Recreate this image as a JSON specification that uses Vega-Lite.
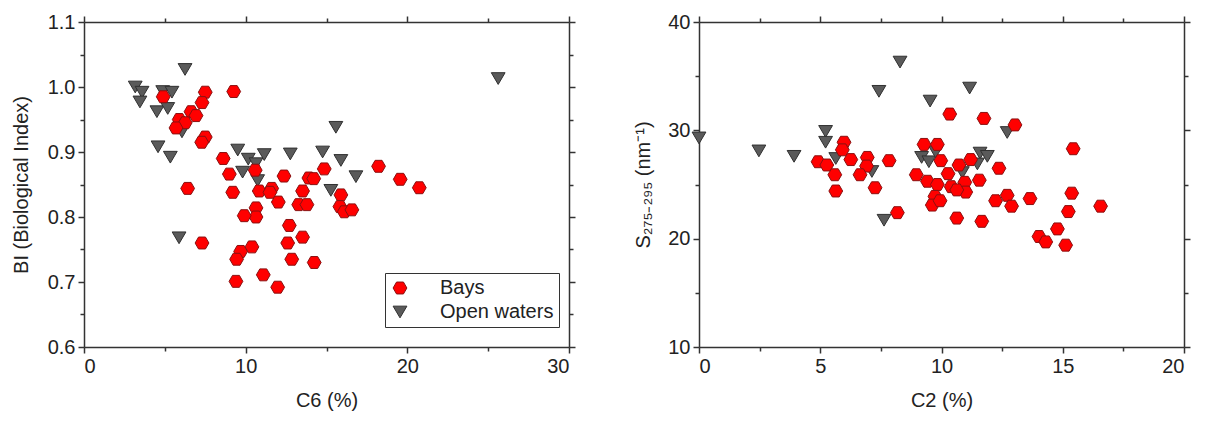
{
  "$schema": "https://vega.github.io/schema/vega-lite/v6.json",
  "background": "white",
  "padding": {"left": 11, "top": 12, "right": 10, "bottom": 5},
  "spacing": 57,
  "config": {
    "font": "Liberation Sans",
    "view": {"stroke": null},
    "axis": {
      "grid": false,
      "labelFont": "Liberation Sans",
      "labelFontSize": 20,
      "labelColor": "#222",
      "labelPadding": 3,
      "titleFont": "Liberation Sans",
      "titleFontSize": 20,
      "titleFontWeight": "normal",
      "titleColor": "#222",
      "domainColor": "#333",
      "domainWidth": 1.5,
      "tickColor": "#333",
      "tickWidth": 1.5
    }
  },
  "datasets": {
    "bi": [
      {"site": "Open waters", "c6": 3.17, "bi": 1.000},
      {"site": "Open waters", "c6": 3.59, "bi": 0.992},
      {"site": "Open waters", "c6": 3.46, "bi": 0.977},
      {"site": "Open waters", "c6": 4.51, "bi": 0.962},
      {"site": "Open waters", "c6": 4.87, "bi": 0.993},
      {"site": "Open waters", "c6": 5.44, "bi": 0.992},
      {"site": "Open waters", "c6": 5.18, "bi": 0.967},
      {"site": "Open waters", "c6": 6.25, "bi": 1.027},
      {"site": "Open waters", "c6": 4.58, "bi": 0.908},
      {"site": "Open waters", "c6": 5.34, "bi": 0.892},
      {"site": "Open waters", "c6": 6.06, "bi": 0.931},
      {"site": "Open waters", "c6": 5.88, "bi": 0.768},
      {"site": "Open waters", "c6": 9.51, "bi": 0.903},
      {"site": "Open waters", "c6": 10.16, "bi": 0.889},
      {"site": "Open waters", "c6": 10.64, "bi": 0.882},
      {"site": "Open waters", "c6": 9.81, "bi": 0.869},
      {"site": "Open waters", "c6": 11.15, "bi": 0.896},
      {"site": "Open waters", "c6": 10.74, "bi": 0.856},
      {"site": "Open waters", "c6": 12.76, "bi": 0.897},
      {"site": "Open waters", "c6": 14.76, "bi": 0.900},
      {"site": "Open waters", "c6": 15.89, "bi": 0.887},
      {"site": "Open waters", "c6": 16.82, "bi": 0.862},
      {"site": "Open waters", "c6": 15.27, "bi": 0.841},
      {"site": "Open waters", "c6": 15.58, "bi": 0.938},
      {"site": "Open waters", "c6": 25.62, "bi": 1.013},
      {"site": "Bays", "c6": 4.90, "bi": 0.985},
      {"site": "Bays", "c6": 7.50, "bi": 0.992},
      {"site": "Bays", "c6": 7.30, "bi": 0.976},
      {"site": "Bays", "c6": 9.26, "bi": 0.993},
      {"site": "Bays", "c6": 6.62, "bi": 0.962},
      {"site": "Bays", "c6": 6.93, "bi": 0.956},
      {"site": "Bays", "c6": 5.89, "bi": 0.950},
      {"site": "Bays", "c6": 6.26, "bi": 0.945},
      {"site": "Bays", "c6": 5.69, "bi": 0.937},
      {"site": "Bays", "c6": 7.50, "bi": 0.923},
      {"site": "Bays", "c6": 7.28, "bi": 0.915},
      {"site": "Bays", "c6": 6.41, "bi": 0.844},
      {"site": "Bays", "c6": 8.61, "bi": 0.890},
      {"site": "Bays", "c6": 8.99, "bi": 0.866},
      {"site": "Bays", "c6": 9.20, "bi": 0.838},
      {"site": "Bays", "c6": 10.59, "bi": 0.872},
      {"site": "Bays", "c6": 10.84, "bi": 0.840},
      {"site": "Bays", "c6": 10.64, "bi": 0.814},
      {"site": "Bays", "c6": 10.64, "bi": 0.800},
      {"site": "Bays", "c6": 9.91, "bi": 0.802},
      {"site": "Bays", "c6": 11.61, "bi": 0.844},
      {"site": "Bays", "c6": 11.50, "bi": 0.838},
      {"site": "Bays", "c6": 12.37, "bi": 0.863},
      {"site": "Bays", "c6": 12.02, "bi": 0.823},
      {"site": "Bays", "c6": 13.52, "bi": 0.840},
      {"site": "Bays", "c6": 13.28, "bi": 0.819},
      {"site": "Bays", "c6": 13.79, "bi": 0.819},
      {"site": "Bays", "c6": 13.91, "bi": 0.860},
      {"site": "Bays", "c6": 14.21, "bi": 0.859},
      {"site": "Bays", "c6": 14.86, "bi": 0.874},
      {"site": "Bays", "c6": 12.70, "bi": 0.787},
      {"site": "Bays", "c6": 13.52, "bi": 0.769},
      {"site": "Bays", "c6": 12.60, "bi": 0.760},
      {"site": "Bays", "c6": 7.30, "bi": 0.760},
      {"site": "Bays", "c6": 9.69, "bi": 0.747},
      {"site": "Bays", "c6": 9.44, "bi": 0.735},
      {"site": "Bays", "c6": 10.39, "bi": 0.754},
      {"site": "Bays", "c6": 12.85, "bi": 0.735},
      {"site": "Bays", "c6": 14.24, "bi": 0.730},
      {"site": "Bays", "c6": 9.40, "bi": 0.701},
      {"site": "Bays", "c6": 11.09, "bi": 0.711},
      {"site": "Bays", "c6": 11.98, "bi": 0.692},
      {"site": "Bays", "c6": 15.89, "bi": 0.834},
      {"site": "Bays", "c6": 15.83, "bi": 0.816},
      {"site": "Bays", "c6": 16.10, "bi": 0.808},
      {"site": "Bays", "c6": 16.57, "bi": 0.811},
      {"site": "Bays", "c6": 18.22, "bi": 0.878},
      {"site": "Bays", "c6": 19.56, "bi": 0.858},
      {"site": "Bays", "c6": 20.74, "bi": 0.845}
    ],
    "s": [
      {"site": "Open waters", "c2": 0.0, "s": 29.3},
      {"site": "Open waters", "c2": 2.47, "s": 28.1},
      {"site": "Open waters", "c2": 3.92, "s": 27.6},
      {"site": "Open waters", "c2": 5.22, "s": 29.9},
      {"site": "Open waters", "c2": 5.22, "s": 28.9},
      {"site": "Open waters", "c2": 5.64, "s": 27.4},
      {"site": "Open waters", "c2": 7.42, "s": 33.6},
      {"site": "Open waters", "c2": 7.63, "s": 21.7},
      {"site": "Open waters", "c2": 7.13, "s": 26.2},
      {"site": "Open waters", "c2": 8.29, "s": 36.3},
      {"site": "Open waters", "c2": 11.16, "s": 33.9},
      {"site": "Open waters", "c2": 9.53, "s": 32.7},
      {"site": "Open waters", "c2": 12.71, "s": 29.8},
      {"site": "Open waters", "c2": 9.18, "s": 27.5},
      {"site": "Open waters", "c2": 9.48, "s": 27.1},
      {"site": "Open waters", "c2": 9.76, "s": 28.0},
      {"site": "Open waters", "c2": 10.86, "s": 26.1},
      {"site": "Open waters", "c2": 11.59, "s": 27.9},
      {"site": "Open waters", "c2": 11.89, "s": 27.6},
      {"site": "Open waters", "c2": 11.48, "s": 26.9},
      {"site": "Bays", "c2": 5.98, "s": 28.9},
      {"site": "Bays", "c2": 5.91, "s": 28.2},
      {"site": "Bays", "c2": 6.26, "s": 27.3},
      {"site": "Bays", "c2": 4.91, "s": 27.1},
      {"site": "Bays", "c2": 5.27, "s": 26.8},
      {"site": "Bays", "c2": 5.60, "s": 25.9},
      {"site": "Bays", "c2": 5.64, "s": 24.4},
      {"site": "Bays", "c2": 6.94, "s": 27.5},
      {"site": "Bays", "c2": 6.91, "s": 26.7},
      {"site": "Bays", "c2": 6.64, "s": 25.9},
      {"site": "Bays", "c2": 7.26, "s": 24.7},
      {"site": "Bays", "c2": 10.34, "s": 31.5},
      {"site": "Bays", "c2": 11.75, "s": 31.1},
      {"site": "Bays", "c2": 13.03, "s": 30.5},
      {"site": "Bays", "c2": 9.28, "s": 28.7},
      {"site": "Bays", "c2": 9.83, "s": 28.7},
      {"site": "Bays", "c2": 7.84, "s": 27.2},
      {"site": "Bays", "c2": 9.97, "s": 27.2},
      {"site": "Bays", "c2": 10.72, "s": 26.8},
      {"site": "Bays", "c2": 11.20, "s": 27.3},
      {"site": "Bays", "c2": 12.37, "s": 26.5},
      {"site": "Bays", "c2": 8.96, "s": 25.9},
      {"site": "Bays", "c2": 10.27, "s": 26.0},
      {"site": "Bays", "c2": 9.42, "s": 25.3},
      {"site": "Bays", "c2": 9.83, "s": 25.0},
      {"site": "Bays", "c2": 10.40, "s": 24.8},
      {"site": "Bays", "c2": 10.96, "s": 25.2},
      {"site": "Bays", "c2": 11.00, "s": 24.3},
      {"site": "Bays", "c2": 10.63, "s": 24.5},
      {"site": "Bays", "c2": 11.56, "s": 25.4},
      {"site": "Bays", "c2": 9.73, "s": 23.9},
      {"site": "Bays", "c2": 9.62, "s": 23.1},
      {"site": "Bays", "c2": 9.94, "s": 23.5},
      {"site": "Bays", "c2": 8.18, "s": 22.4},
      {"site": "Bays", "c2": 10.63, "s": 21.9},
      {"site": "Bays", "c2": 11.66, "s": 21.6},
      {"site": "Bays", "c2": 12.23, "s": 23.5},
      {"site": "Bays", "c2": 12.71, "s": 24.0},
      {"site": "Bays", "c2": 12.89, "s": 23.0},
      {"site": "Bays", "c2": 13.65, "s": 23.7},
      {"site": "Bays", "c2": 14.02, "s": 20.2},
      {"site": "Bays", "c2": 14.30, "s": 19.7},
      {"site": "Bays", "c2": 15.43, "s": 28.3},
      {"site": "Bays", "c2": 15.37, "s": 24.2},
      {"site": "Bays", "c2": 16.56, "s": 23.0},
      {"site": "Bays", "c2": 15.23, "s": 22.5},
      {"site": "Bays", "c2": 14.78, "s": 20.9},
      {"site": "Bays", "c2": 15.12, "s": 19.4}
    ]
  },
  "resolve": {"legend": {"shape": "independent", "fill": "independent", "stroke": "independent"}},
  "hconcat": [
    {
      "width": 485,
      "height": 325,
      "data": {"name": "bi"},
      "resolve": {"axis": {"x": "independent", "y": "independent"}},
      "layer": [
        {
          "mark": {"type": "point", "filled": true, "opacity": 1, "strokeWidth": 1, "size": 190},
          "encoding": {
            "x": {
              "field": "c6", "type": "quantitative",
              "scale": {"domain": [0, 30], "nice": false, "zero": false},
              "axis": {
                "title": "C6 (%)", "titlePadding": 14,
                "values": [0, 5, 10, 15, 20, 25, 30],
                "labelExpr": "datum.value % 10 === 0 ? datum.label : ''",
                "tickSize": {"condition": {"test": "datum.value % 10 === 0", "value": 6}, "value": 4}
              }
            },
            "y": {
              "field": "bi", "type": "quantitative",
              "scale": {"domain": [0.6, 1.1], "nice": false, "zero": false},
              "axis": {
                "title": "BI (Biological Index)", "titlePadding": 16,
                "values": [0.6, 0.65, 0.7, 0.75, 0.8, 0.85, 0.9, 0.95, 1.0, 1.05, 1.1],
                "labelExpr": "round(datum.value * 100) % 10 === 0 ? format(datum.value, '.1f') : ''",
                "tickSize": {"condition": {"test": "round(datum.value * 100) % 10 === 0", "value": 6}, "value": 4}
              }
            },
            "shape": {
              "field": "site", "type": "nominal",
              "scale": {"domain": ["Bays", "Open waters"], "range": ["M-1,0L-0.5,-0.866L0.5,-0.866L1,0L0.5,0.866L-0.5,0.866Z", "M-1,-0.85L1,-0.85L0,0.85Z"]},
              "legend": {
                "title": null, "orient": "none", "legendX": 301, "legendY": 251,
                "strokeColor": "#333", "fillColor": "white", "padding": 5,
                "labelFont": "Liberation Sans", "labelFontSize": 20, "labelColor": "#222",
                "labelOffset": 30, "rowPadding": 4, "symbolSize": 190, "symbolStrokeWidth": 1, "labelLimit": 300
              }
            },
            "fill": {
              "field": "site", "type": "nominal",
              "scale": {"domain": ["Bays", "Open waters"], "range": ["#ff0000", "#5a5a5a"]},
              "legend": {
                "title": null, "orient": "none", "legendX": 301, "legendY": 251,
                "strokeColor": "#333", "fillColor": "white", "padding": 5,
                "labelFont": "Liberation Sans", "labelFontSize": 20, "labelColor": "#222",
                "labelOffset": 30, "rowPadding": 4, "symbolSize": 190, "symbolStrokeWidth": 1, "labelLimit": 300
              }
            },
            "stroke": {
              "field": "site", "type": "nominal",
              "scale": {"domain": ["Bays", "Open waters"], "range": ["#8a1010", "#303030"]},
              "legend": {
                "title": null, "orient": "none", "legendX": 301, "legendY": 251,
                "strokeColor": "#333", "fillColor": "white", "padding": 5,
                "labelFont": "Liberation Sans", "labelFontSize": 20, "labelColor": "#222",
                "labelOffset": 30, "rowPadding": 4, "symbolSize": 190, "symbolStrokeWidth": 1, "labelLimit": 300
              }
            }
          }
        },
        {
          "mark": {"type": "point", "opacity": 0},
          "encoding": {
            "x": {
              "field": "c6", "type": "quantitative",
              "axis": {
                "orient": "top", "labels": false, "title": null,
                "values": [0, 5, 10, 15, 20, 25, 30],
                "tickSize": {"condition": {"test": "datum.value % 10 === 0", "value": 6}, "value": 4}
              }
            },
            "y": {
              "field": "bi", "type": "quantitative",
              "axis": {
                "orient": "right", "labels": false, "title": null,
                "values": [0.6, 0.65, 0.7, 0.75, 0.8, 0.85, 0.9, 0.95, 1.0, 1.05, 1.1],
                "tickSize": {"condition": {"test": "round(datum.value * 100) % 10 === 0", "value": 6}, "value": 4}
              }
            }
          }
        }
      ]
    },
    {
      "width": 485,
      "height": 325,
      "data": {"name": "s"},
      "resolve": {"axis": {"x": "independent", "y": "independent"}},
      "layer": [
        {
          "mark": {"type": "point", "filled": true, "opacity": 1, "strokeWidth": 1, "size": 190},
          "encoding": {
            "x": {
              "field": "c2", "type": "quantitative",
              "scale": {"domain": [0, 20], "nice": false, "zero": false},
              "axis": {
                "title": "C2 (%)", "titlePadding": 14,
                "values": [0, 2.5, 5, 7.5, 10, 12.5, 15, 17.5, 20],
                "labelExpr": "datum.value % 5 === 0 ? datum.label : ''",
                "tickSize": {"condition": {"test": "datum.value % 5 === 0", "value": 6}, "value": 4}
              }
            },
            "y": {
              "field": "s", "type": "quantitative",
              "scale": {"domain": [10, 40], "nice": false, "zero": false},
              "axis": {
                "title": "S₂₇₅₋₂₉₅ (nm⁻¹)", "titlePadding": 14,
                "values": [10, 15, 20, 25, 30, 35, 40],
                "labelExpr": "datum.value % 10 === 0 ? datum.label : ''",
                "tickSize": {"condition": {"test": "datum.value % 10 === 0", "value": 6}, "value": 4}
              }
            },
            "shape": {
              "field": "site", "type": "nominal",
              "scale": {"domain": ["Bays", "Open waters"], "range": ["M-1,0L-0.5,-0.866L0.5,-0.866L1,0L0.5,0.866L-0.5,0.866Z", "M-1,-0.85L1,-0.85L0,0.85Z"]},
              "legend": null
            },
            "fill": {
              "field": "site", "type": "nominal",
              "scale": {"domain": ["Bays", "Open waters"], "range": ["#ff0000", "#5a5a5a"]},
              "legend": null
            },
            "stroke": {
              "field": "site", "type": "nominal",
              "scale": {"domain": ["Bays", "Open waters"], "range": ["#8a1010", "#303030"]},
              "legend": null
            }
          }
        },
        {
          "mark": {"type": "point", "opacity": 0},
          "encoding": {
            "x": {
              "field": "c2", "type": "quantitative",
              "axis": {
                "orient": "top", "labels": false, "title": null,
                "values": [0, 2.5, 5, 7.5, 10, 12.5, 15, 17.5, 20],
                "tickSize": {"condition": {"test": "datum.value % 5 === 0", "value": 6}, "value": 4}
              }
            },
            "y": {
              "field": "s", "type": "quantitative",
              "axis": {
                "orient": "right", "labels": false, "title": null,
                "values": [10, 15, 20, 25, 30, 35, 40],
                "tickSize": {"condition": {"test": "datum.value % 10 === 0", "value": 6}, "value": 4}
              }
            }
          }
        }
      ]
    }
  ]
}
